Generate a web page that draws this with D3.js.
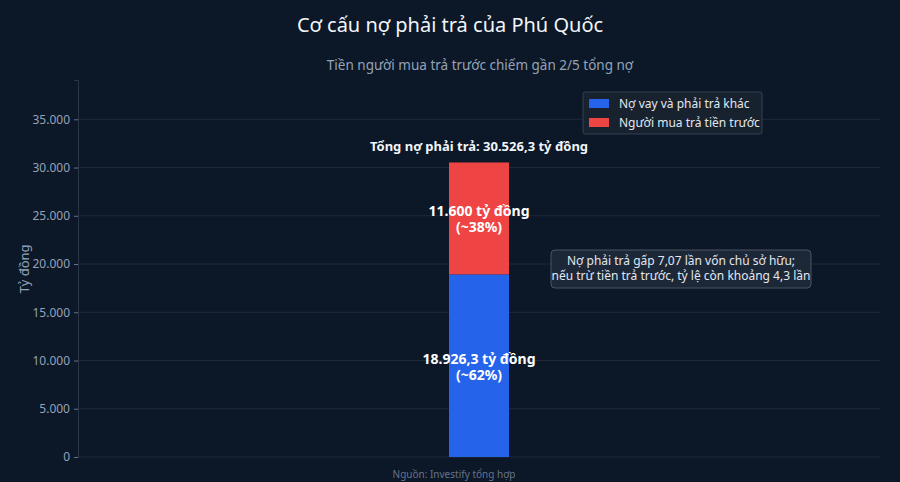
<!DOCTYPE html>
<html>
<head>
<meta charset="utf-8">
<script src="https://cdn.jsdelivr.net/npm/d3@7"></script>
<style>
  body { margin: 0; background: #0c1727; }
  svg { display: block; font-family: "Noto Sans", sans-serif; }
</style>
</head>
<body>
<svg id="chart" width="900" height="482"></svg>
<script>
// data
const categories = ["Phú Quốc"];
const seriesNames = ["Nợ vay và phải trả khác", "Người mua trả tiền trước"];
const borrowings = [18926.3];
const prepayments = [11600];
const segmentLabels = [["18.926,3 tỷ đồng", "(~62%)"], ["11.600 tỷ đồng", "(~38%)"]];
const totalLabel = "Tổng nợ phải trả: 30.526,3 tỷ đồng";
const noteLines = ["Nợ phải trả gấp 7,07 lần vốn chủ sở hữu;", "nếu trừ tiền trả trước, tỷ lệ còn khoảng 4,3 lần"];
const noteAt = 20000;
const yTicks = [0, 5000, 10000, 15000, 20000, 25000, 30000, 35000];
const colors = ["#2563eb", "#ef4444"];

const width = 900, height = 482;
const margin = { top: 80, right: 20, bottom: 25, left: 78 };
const svg = d3.select("#chart");
const fmt = d3.formatLocale({ decimal: ",", thousands: ".", grouping: [3], currency: ["", ""] }).format(",.0f");

// title
svg.append("text").attr("x", width / 2).attr("y", 32).attr("text-anchor", "middle")
    .style("fill", "#f1f5f9").style("font-size", "20px").text("Cơ cấu nợ phải trả của Phú Quốc");
svg.append("text").attr("x", width / 2 + 30).attr("y", 70).attr("text-anchor", "middle")
    .style("fill", "#94a3b8").style("font-size", "13.5px").text("Tiền người mua trả trước chiếm gần 2/5 tổng nợ");

const total = borrowings[0] + prepayments[0];
const y = d3.scaleLinear().domain([0, total * 1.28]).range([height - margin.bottom, margin.top]);
const x = d3.scaleBand().domain(categories).range([margin.left, width - margin.right]).padding(0.925);

const g = svg.append("g");

// grid lines
g.selectAll("line.grid").data(yTicks).enter().append("line")
    .attr("x1", margin.left).attr("x2", width - margin.right)
    .attr("y1", d => y(d)).attr("y2", d => y(d))
    .style("stroke", "#1e2b3d").style("stroke-width", 1);

// y axis
const yAxis = g.append("g").attr("transform", "translate(" + margin.left + ",0)")
    .call(d3.axisLeft(y).tickValues(yTicks).tickFormat(fmt).tickSize(4).tickPadding(4));
yAxis.select(".domain").style("stroke", "#2a3547");
yAxis.selectAll(".tick line").style("stroke", "#64748b");
yAxis.selectAll(".tick text").style("fill", "#94a3b8").style("font-size", "12px").style("font-family", "Noto Sans");

svg.append("text").attr("transform", "translate(29," + y(19500) + ") rotate(-90)")
    .attr("text-anchor", "middle").style("fill", "#94a3b8").style("font-size", "13px").text("Tỷ đồng");

// stacked bars
const rows = categories.map((c, i) => ({ cat: c, a: borrowings[i], b: prepayments[i] }));
const stack = d3.stack().keys(["a", "b"])(rows);
const bw = 60;
stack.forEach((layer, li) => {
    g.selectAll("rect.s" + li).data(layer).enter().append("rect")
        .attr("x", d => x(d.data.cat) + x.bandwidth() / 2 - bw / 2)
        .attr("width", bw)
        .attr("y", d => y(d[1]))
        .attr("height", d => y(d[0]) - y(d[1]))
        .style("fill", colors[li]);
    layer.forEach(d => {
        const cx = x(d.data.cat) + x.bandwidth() / 2;
        const cy = (y(d[0]) + y(d[1])) / 2;
        segmentLabels[li].forEach((s, k) => {
            g.append("text").attr("x", cx).attr("y", cy - 2 + k * 16).attr("text-anchor", "middle")
                .style("fill", "#ffffff").style("font-size", "14px").style("font-weight", "bold").text(s);
        });
    });
});

// total label
g.append("text").attr("x", x(categories[0]) + x.bandwidth() / 2).attr("y", y(total) - 11)
    .attr("text-anchor", "middle").style("fill", "#f1f5f9").style("font-size", "13px").style("font-weight", "bold")
    .text(totalLabel);

// note box
const note = g.append("g").attr("transform", "translate(681," + y(noteAt) + ")");
note.append("rect").attr("x", -130).attr("y", -14).attr("width", 260).attr("height", 38).attr("rx", 4)
    .style("fill", "#1c2738").style("stroke", "#4b5563").style("stroke-width", 1);
noteLines.forEach((s, k) => {
    note.append("text").attr("x", 0).attr("y", k * 15 + 1).attr("text-anchor", "middle")
        .style("fill", "#e2e8f0").style("font-size", "12px").text(s);
});

// legend
const lg = svg.append("g").attr("transform", "translate(583,92)");
lg.append("rect").attr("width", 179).attr("height", 42).attr("rx", 2)
    .style("fill", "#18222f").style("stroke", "#334155").style("stroke-width", 1);
seriesNames.forEach((n, i) => {
    lg.append("rect").attr("x", 6).attr("y", 7 + i * 19).attr("width", 20).attr("height", 9).style("fill", colors[i]);
    lg.append("text").attr("x", 36).attr("y", 16 + i * 19).style("fill", "#e2e8f0").style("font-size", "12px").text(n);
});

// footer
svg.append("text").attr("x", 454).attr("y", 478).attr("text-anchor", "middle")
    .style("fill", "#64748b").style("font-size", "10px").text("Nguồn: Investify tổng hợp");
</script>
</body>
</html>
